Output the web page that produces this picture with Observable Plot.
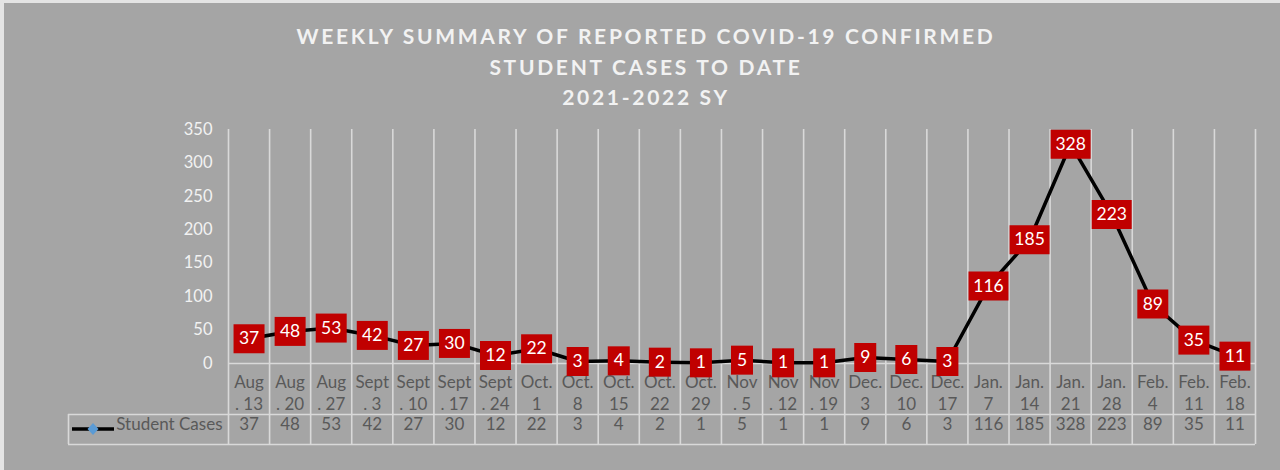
<!DOCTYPE html>
<html>
<head>
<meta charset="utf-8">
<script src="https://cdn.jsdelivr.net/npm/d3@7"></script>
<script src="https://cdn.jsdelivr.net/npm/@observablehq/plot@0.6"></script>
<style>
  html, body { margin: 0; padding: 0; background: #a5a5a5; }
  #chart { position: relative; width: 1280px; height: 470px; background: #a5a5a5; overflow: hidden; font-family: Lato, "Open Sans", sans-serif; }
  #frame { position: absolute; left: 0; top: 0; width: 1280px; height: 470px; box-sizing: border-box; border-top: 3px solid #e4e4e4; border-left: 4px solid #e4e4e4; pointer-events: none; }
  #title { position: absolute; left: 0; top: 21px; width: 1292px; text-align: center; color: #f2f2f2; font-weight: 700; font-size: 21px; letter-spacing: 2.7px; line-height: 30.5px; }
  #plot { position: absolute; left: 0; top: 0; }
</style>
</head>
<body>
<div id="chart">
  <div id="title">WEEKLY SUMMARY OF REPORTED COVID-19 CONFIRMED<br>STUDENT CASES TO DATE<br>2021-2022 SY</div>
  <div id="plot"></div>
  <div id="frame"></div>
</div>
<script>
// ---- data ----
const labelTop = ["Aug", "Aug", "Aug", "Sept", "Sept", "Sept", "Sept", "Oct.", "Oct.", "Oct.", "Oct.", "Oct.", "Nov", "Nov", "Nov", "Dec.", "Dec.", "Dec.", "Jan.", "Jan.", "Jan.", "Jan.", "Feb.", "Feb.", "Feb."];
const labelBottom = [". 13", ". 20", ". 27", ". 3", ". 10", ". 17", ". 24", "1", "8", "15", "22", "29", ". 5", ". 12", ". 19", "3", "10", "17", "7", "14", "21", "28", "4", "11", "18"];
const studentCases = [37, 48, 53, 42, 27, 30, 12, 22, 3, 4, 2, 1, 5, 1, 1, 9, 6, 3, 116, 185, 328, 223, 89, 35, 11];
const seriesName = "Student Cases";
const yTicks = [0, 50, 100, 150, 200, 250, 300, 350];

const rows = studentCases.map((v, i) => ({
  i, value: v, label: labelTop[i] + "\n" + labelBottom[i]
}));
const xPos = d => d.i + 0.5;
const boundaries = d3.range(studentCases.length + 1);

// box symbol with variable width (r = half width)
const boxSymbol = {
  draw(context, size) {
    const r = Math.sqrt(size / Math.PI);
    context.moveTo(-r, -14.5);
    context.lineTo(r, -14.5);
    context.lineTo(r, 14.5);
    context.lineTo(-r, 14.5);
    context.closePath();
  }
};

const grid = "#d9d9d9";
const textGray = "#595959";

const legendSwatch = (index, scales, values, dimensions) => {
  const {marginLeft, height, marginBottom} = dimensions;
  const y = height - marginBottom + 66;
  const g = d3.create("svg:g");
  g.append("line")
    .attr("x1", marginLeft - 156).attr("x2", marginLeft - 114)
    .attr("y1", y).attr("y2", y)
    .attr("stroke", "black").attr("stroke-width", 3.5);
  const cx = marginLeft - 135;
  g.append("path")
    .attr("d", `M${cx},${y - 6}L${cx + 5.5},${y}L${cx},${y + 6}L${cx - 5.5},${y}Z`)
    .attr("fill", "#5b9bd5");
  return g.node();
};

const chart = Plot.plot({
  width: 1280,
  height: 470,
  marginLeft: 228,
  marginRight: 25,
  marginTop: 129,
  marginBottom: 107,
  style: {background: "transparent", fontFamily: "Lato, 'Open Sans', sans-serif", overflow: "visible"},
  x: {domain: [0, studentCases.length], axis: null},
  y: {domain: [0, 350], axis: null},
  r: {type: "identity"},
  marks: [
    // vertical gridlines extending through table
    Plot.ruleX(boundaries, {x: d => d, stroke: grid, strokeWidth: 1.6, insetBottom: -81}),
    // baseline
    Plot.ruleY([0], {stroke: grid, strokeWidth: 1.6}),
    // table horizontal lines
    Plot.ruleY([0], {stroke: grid, strokeWidth: 1.6, dy: 51, insetLeft: -160}),
    Plot.ruleY([0], {stroke: grid, strokeWidth: 1.6, dy: 81, insetLeft: -160}),
    // table left edge
    Plot.ruleX([0], {x: d => d, stroke: grid, strokeWidth: 1.6, dx: -160, insetTop: 285, insetBottom: -81}),
    // y axis
    Plot.axisY({ticks: yTicks, label: null, tickSize: 0, tickPadding: 16, fontSize: 16.5, fill: "#f2f2f2", tickFormat: d => String(d)}),
    // category labels
    Plot.text(rows, {x: xPos, frameAnchor: "bottom", text: "label", lineAnchor: "top", dy: 8, lineHeight: 1.33, fontSize: 17, fill: textGray}),
    // values row
    Plot.text(rows, {x: xPos, frameAnchor: "bottom", text: d => String(d.value), dy: 66, fontSize: 17, fill: textGray}),
    // legend
    Plot.text([seriesName], {frameAnchor: "bottom-left", text: d => d, textAnchor: "end", dx: -6, dy: 66, fontSize: 17, fill: textGray}),
    legendSwatch,
    // series line
    Plot.line(rows, {x: xPos, y: "value", stroke: "black", strokeWidth: 3.5}),
    // label boxes
    Plot.dot(rows, {x: xPos, y: "value", r: d => (9 * String(d.value).length + 13) / 2, symbol: boxSymbol, fill: "#c00000", stroke: "none"}),
    Plot.text(rows, {x: xPos, y: "value", text: d => String(d.value), fill: "white", fontSize: 17.5})
  ]
});
document.getElementById("plot").appendChild(chart);
</script>
</body>
</html>
